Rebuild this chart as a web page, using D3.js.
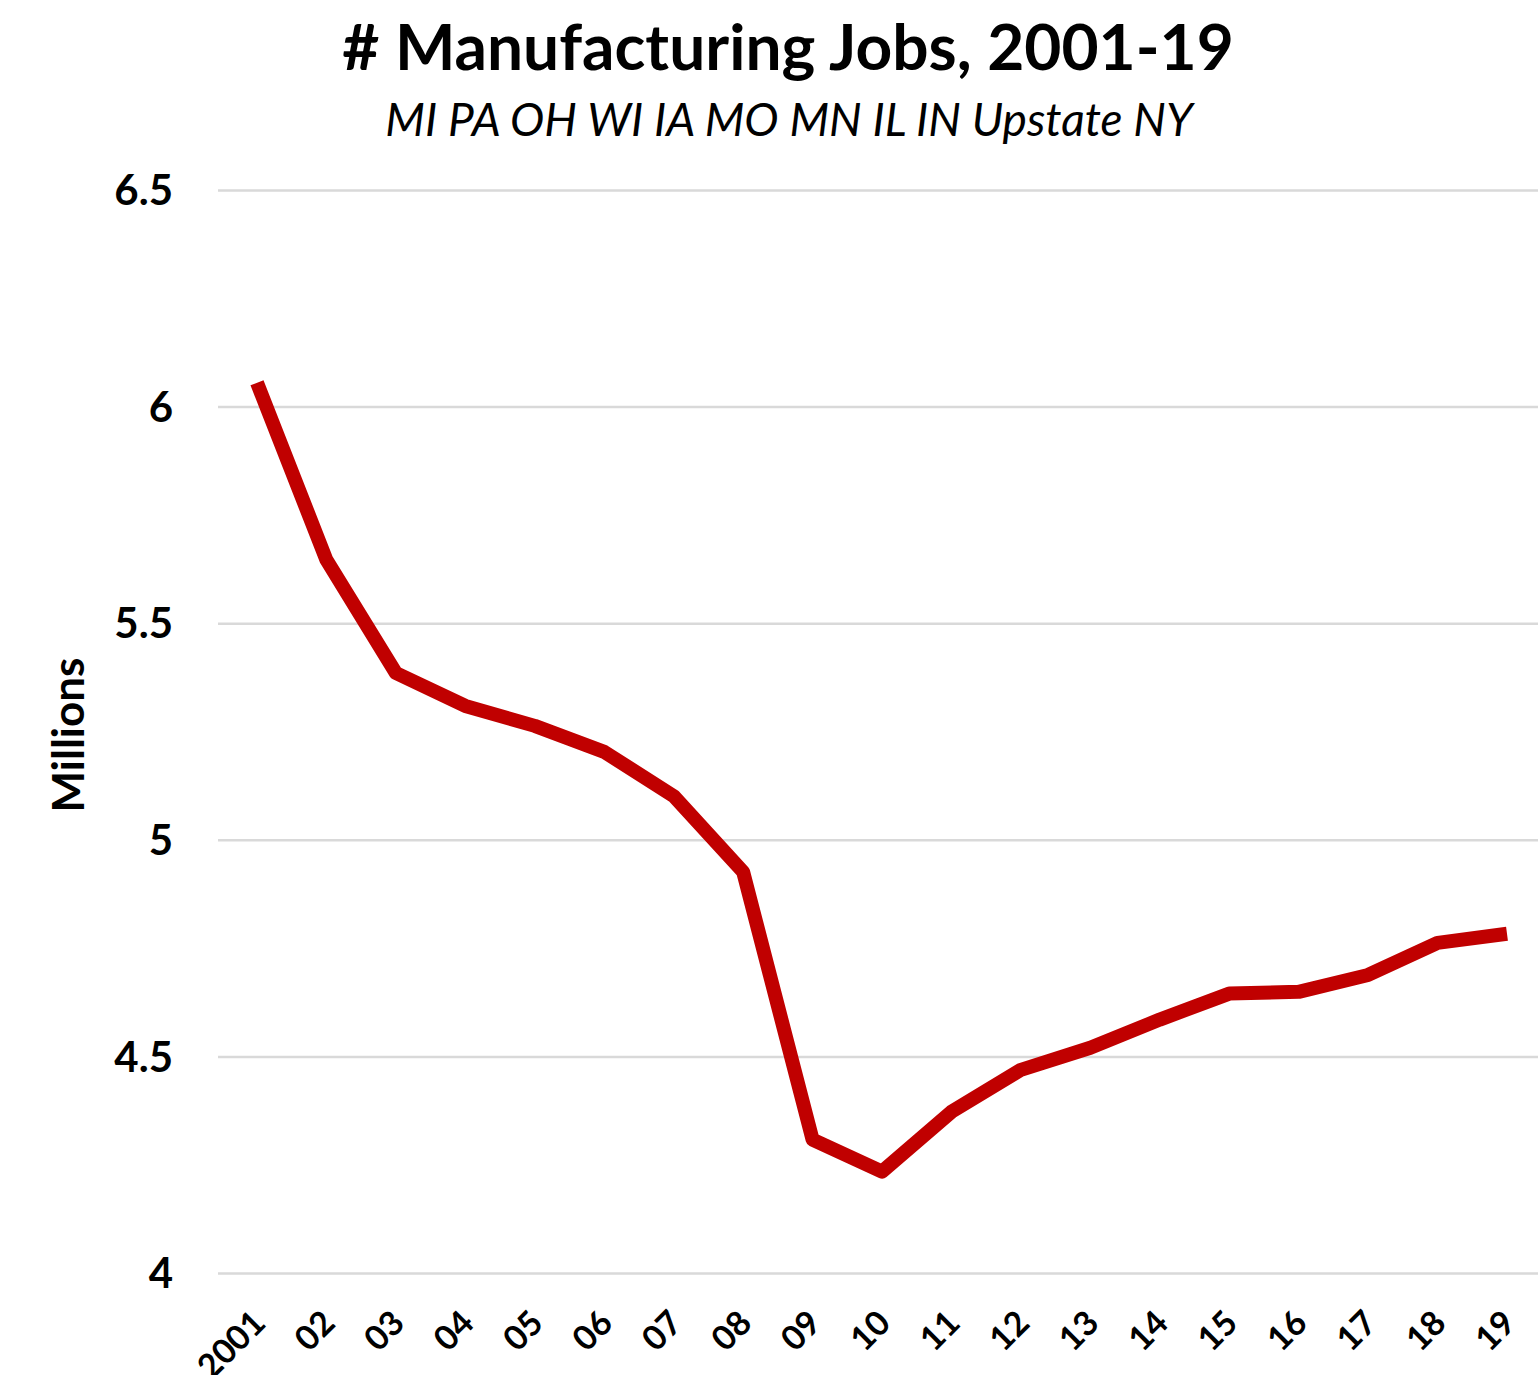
<!DOCTYPE html>
<html>
<head>
<meta charset="utf-8">
<script src="https://cdn.jsdelivr.net/npm/d3@7"></script>
<style>
  body { margin: 0; background: #fff; }
  text { font-family: Lato, "Open Sans", sans-serif; fill: #000; }
</style>
</head>
<body>
<script>
var w = 1538;
var h = 1375;

// data (millions of jobs)
var years = ["2001", "02", "03", "04", "05", "06", "07", "08", "09", "10",
  "11", "12", "13", "14", "15", "16", "17", "18", "19"];
var jobs = [6.055, 5.646, 5.385, 5.309, 5.263, 5.203, 5.101, 4.926, 4.308, 4.234,
  4.372, 4.469, 4.520, 4.585, 4.645, 4.649, 4.688, 4.762, 4.783];
var yTicks = [4, 4.5, 5, 5.5, 6, 6.5];

var margin = { top: 190, bottom: 102, left: 218, right: 0 };

var svg = d3.select("body")
  .append("svg")
  .attr("width", w)
  .attr("height", h);

var x = d3.scalePoint()
  .domain(years)
  .range([257, 1507]);

var y = d3.scaleLinear()
  .domain([4, 6.5])
  .range([h - margin.bottom, margin.top]);

// title + subtitle
svg.append("text")
  .attr("x", 788)
  .attr("y", 70)
  .attr("text-anchor", "middle")
  .style("font-size", "64px")
  .style("font-weight", "bold")
  .text("# Manufacturing Jobs, 2001-19");

svg.append("text")
  .attr("x", 789)
  .attr("y", 136)
  .attr("text-anchor", "middle")
  .style("font-size", "46px")
  .style("font-style", "italic")
  .text("MI PA OH WI IA MO MN IL IN Upstate NY");

// gridlines
var yAxis = d3.axisLeft(y)
  .tickValues(yTicks)
  .tickSize(-(w - margin.left))
  .tickFormat(d3.format("~g"));

var gy = svg.append("g")
  .attr("transform", "translate(" + margin.left + ",0)")
  .call(yAxis);

gy.select(".domain").remove();
gy.selectAll(".tick line")
  .attr("stroke", "#d9d9d9")
  .attr("stroke-width", 2.5);
gy.selectAll(".tick text")
  .attr("x", -45)
  .attr("dy", "0.35em")
  .style("font-size", "42px")
  .style("font-weight", "bold");

// x axis labels
var xAxis = d3.axisBottom(x).tickSize(0);
var gx = svg.append("g")
  .attr("transform", "translate(0," + (h - margin.bottom) + ")")
  .call(xAxis);
gx.select(".domain").remove();
gx.selectAll(".tick text")
  .attr("x", 0)
  .attr("y", 0)
  .attr("dy", 0)
  .attr("text-anchor", "end")
  .attr("transform", "translate(10,52) rotate(-45)")
  .style("font-size", "34px")
  .style("font-weight", "bold");

// y label
svg.append("text")
  .attr("transform", "translate(84,735) rotate(-90)")
  .attr("text-anchor", "middle")
  .style("font-size", "44px")
  .style("font-weight", "bold")
  .text("Millions");

// line
var line = d3.line()
  .x(function(d, i) { return x(years[i]); })
  .y(function(d) { return y(d); });

svg.append("path")
  .datum(jobs)
  .attr("d", line)
  .attr("fill", "none")
  .attr("stroke", "#c00000")
  .attr("stroke-width", 14)
  .attr("stroke-linejoin", "round");
</script>
</body>
</html>
